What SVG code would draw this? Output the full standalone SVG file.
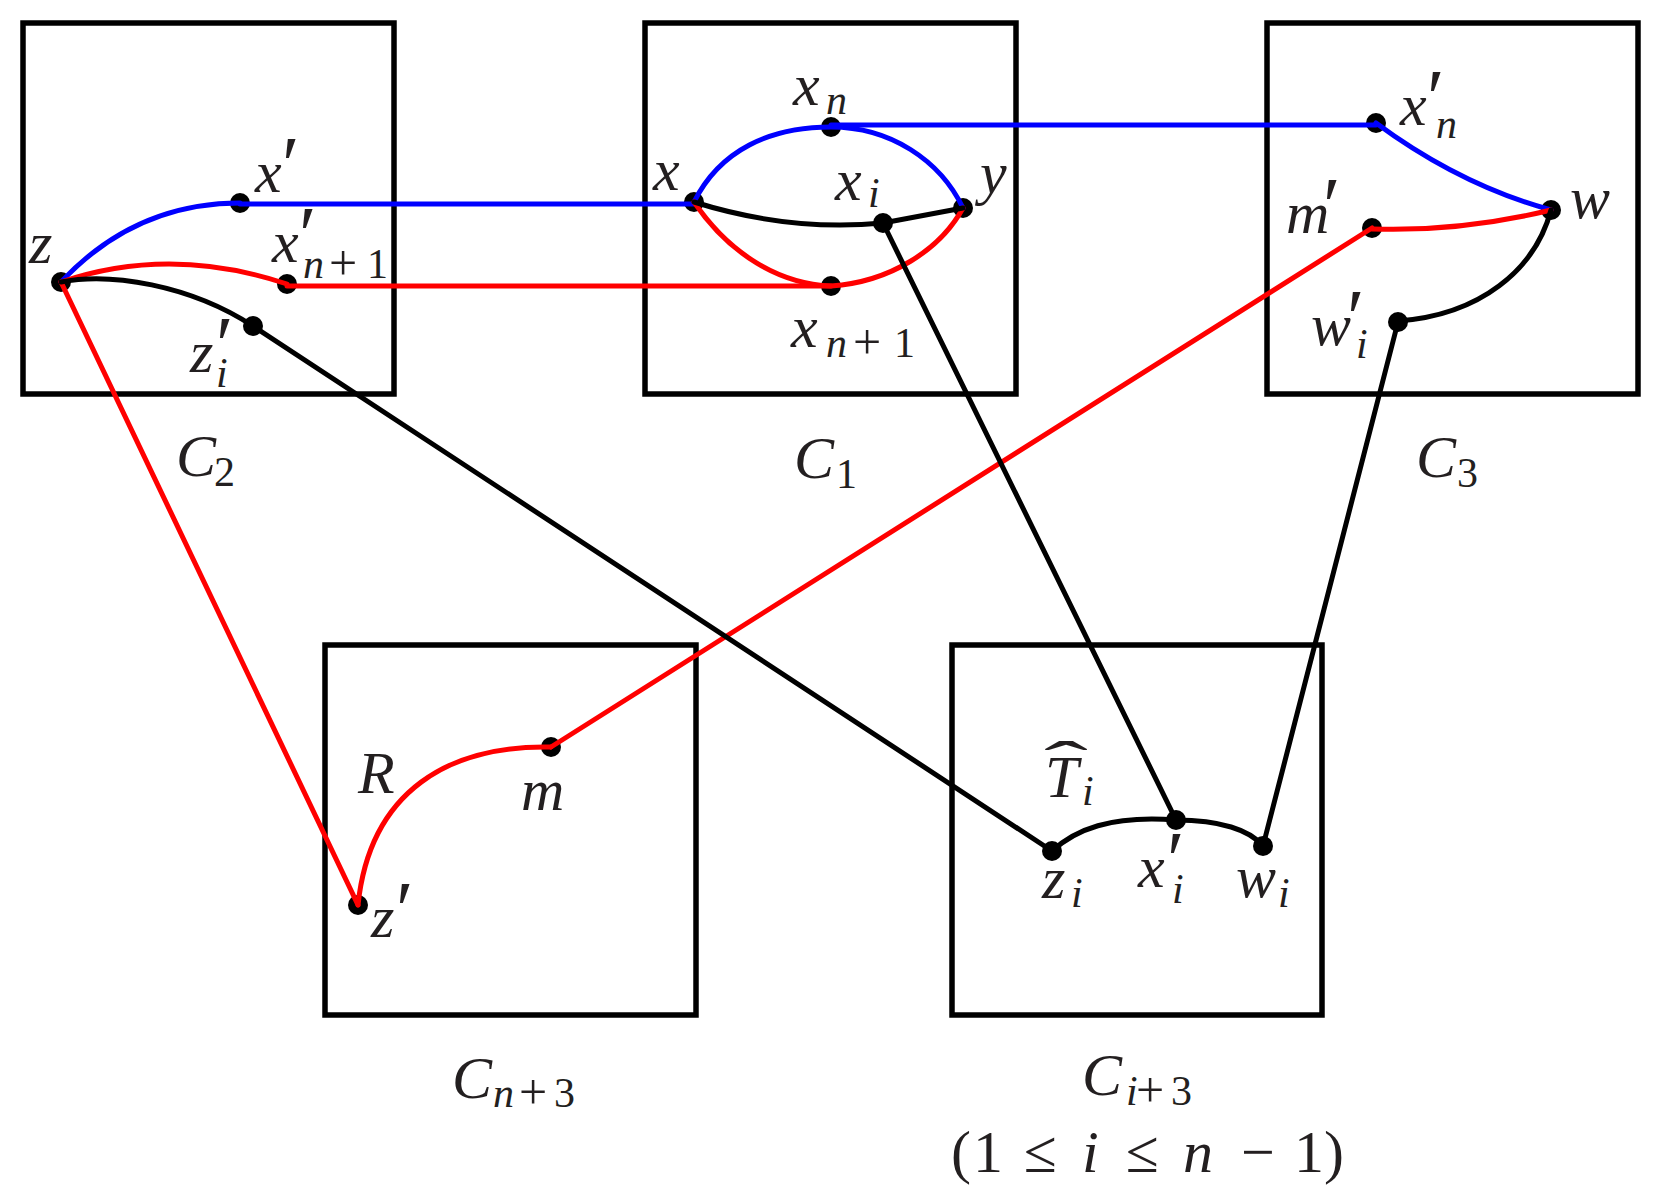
<svg xmlns="http://www.w3.org/2000/svg" width="1677" height="1200" viewBox="0 0 1677 1200">
<style>
.box{fill:none;stroke:#000;stroke-width:5.5}
.e{fill:none;stroke-width:5;stroke-linecap:round}
.b{stroke:#0000ff}
.rd{stroke:#ff0000}
.k{stroke:#000}
.dot{fill:#000}
text{font-family:"Liberation Serif","DejaVu Serif",serif;font-style:italic;font-size:60px;fill:#231f20}
.s{font-size:42px}
.u{font-style:normal}
.pl{font-style:normal;font-size:50px}
.p{font-style:normal;font-size:80px}
</style>
<rect width="1677" height="1200" fill="#fff"/>
<g id="boxes">
<g id="C2"><rect class="box" x="23" y="23" width="371" height="371"/><text x="176" y="476">C<tspan class="s u" x="214" y="486">2</tspan></text></g>
<g id="C1"><rect class="box" x="645" y="23" width="371" height="371"/><text x="794" y="478">C<tspan class="s u" x="836" y="488">1</tspan></text></g>
<g id="C3"><rect class="box" x="1267" y="23" width="371" height="371"/><text x="1416" y="477">C<tspan class="s u" x="1457" y="487">3</tspan></text></g>
<g id="Cn3"><rect class="box" x="325" y="645" width="371" height="370"/><text x="452" y="1098">C<tspan class="s" x="493" y="1107">n</tspan><tspan class="pl" x="519" y="1109">+</tspan><tspan class="s u" x="554" y="1107">3</tspan></text><text x="358" y="793">R</text></g>
<g id="Ci3"><rect class="box" x="952" y="645" width="370" height="370"/><text x="1082" y="1095">C<tspan class="s" x="1126" y="1105">i</tspan><tspan class="pl" x="1136" y="1107">+</tspan><tspan class="s u" x="1171" y="1105">3</tspan></text>
<text class="u" x="951" y="1172">(<tspan x="973">1</tspan><tspan x="1024">≤</tspan><tspan x="1082" style="font-style:italic">i</tspan><tspan x="1126">≤</tspan><tspan x="1183" style="font-style:italic">n</tspan><tspan x="1241">−</tspan><tspan x="1294">1</tspan><tspan x="1324">)</tspan></text>
<text x="1045" y="797">T<tspan class="s" x="1082" y="805">i</tspan></text><text class="u" transform="translate(1066,782) scale(2.2,1)" text-anchor="middle">ˆ</text></g>
</g>
<g id="dots">
<g id="n-z"><circle class="dot" cx="61" cy="282" r="10"/><text x="29" y="263">z</text></g>
<g id="n-xp"><circle class="dot" cx="240" cy="203" r="10"/><text x="255" y="192">x<tspan class="p" x="282" y="192">′</tspan></text></g>
<g id="n-xpn1"><circle class="dot" cx="287" cy="284" r="10"/><text x="272" y="262">x<tspan class="p" x="299" y="262">′</tspan><tspan class="s" x="303" y="278">n</tspan><tspan class="pl" x="329" y="280">+</tspan><tspan class="s u" x="367" y="278">1</tspan></text></g>
<g id="n-zpi"><circle class="dot" cx="253" cy="326" r="10"/><text x="190" y="372">z<tspan class="p" x="216" y="372">′</tspan><tspan class="s" x="216" y="387">i</tspan></text></g>
<g id="n-x"><circle class="dot" cx="694" cy="202" r="10"/><text x="653" y="190">x</text></g>
<g id="n-xn"><circle class="dot" cx="831" cy="127" r="10"/><text x="793" y="105">x<tspan class="s" x="826" y="114">n</tspan></text></g>
<g id="n-y"><circle class="dot" cx="963" cy="208" r="10"/><text x="980" y="193">y</text></g>
<g id="n-xi"><circle class="dot" cx="883" cy="223" r="10"/><text x="835" y="200">x<tspan class="s" x="868" y="207">i</tspan></text></g>
<g id="n-xn1"><circle class="dot" cx="831" cy="286" r="10"/><text x="791" y="347">x<tspan class="s" x="826" y="357">n</tspan><tspan class="pl" x="853" y="359">+</tspan><tspan class="s u" x="894" y="357">1</tspan></text></g>
<g id="n-xpn"><circle class="dot" cx="1376" cy="123" r="10"/><text x="1400" y="125">x<tspan class="p" x="1427" y="125">′</tspan><tspan class="s" x="1436" y="138">n</tspan></text></g>
<g id="n-w"><circle class="dot" cx="1551" cy="210" r="10"/><text x="1570" y="218">w</text></g>
<g id="n-mp"><circle class="dot" cx="1372" cy="228" r="10"/><text x="1286" y="233">m<tspan class="p" x="1323" y="233">′</tspan></text></g>
<g id="n-wpi"><circle class="dot" cx="1398" cy="322" r="10"/><text x="1311" y="345">w<tspan class="p" x="1347" y="345">′</tspan><tspan class="s" x="1356" y="358">i</tspan></text></g>
<g id="n-m"><circle class="dot" cx="551" cy="747" r="10"/><text x="521" y="810">m</text></g>
<g id="n-zp"><circle class="dot" cx="358" cy="905" r="10"/><text x="371" y="937">z<tspan class="p" x="396" y="937">′</tspan></text></g>
<g id="n-zi"><circle class="dot" cx="1052" cy="851" r="10"/><text x="1042" y="898">z<tspan class="s" x="1071" y="907">i</tspan></text></g>
<g id="n-xpi"><circle class="dot" cx="1176" cy="820" r="10"/><text x="1138" y="887">x<tspan class="p" x="1167" y="887">′</tspan><tspan class="s" x="1172" y="903">i</tspan></text></g>
<g id="n-wi"><circle class="dot" cx="1263" cy="846" r="10"/><text x="1236" y="897">w<tspan class="s" x="1278" y="907">i</tspan></text></g>
</g>
<g id="connectors">
<path class="e b" d="M61,282 Q135,203 240,203"/>
<path class="e b" d="M240,204 L694,204"/>
<path class="e b" d="M694,202 C720,150 770,127 831,127 C890,127 940,160 963,208"/>
<path class="e b" d="M831,125 L1376,125"/>
<path class="e b" d="M1376,123 Q1460,185 1551,210"/>
<path class="e rd" d="M61,282 Q170,245 287,284"/>
<path class="e rd" d="M287,286 L831,286"/>
<path class="e rd" d="M694,202 C730,255 780,284 831,286 C890,282 940,250 963,208"/>
<path class="e rd" d="M1372,229 Q1460,232 1551,210"/>
<path class="e rd" d="M61,282 L358,905"/>
<path class="e rd" d="M358,905 C370,790 450,745 551,747"/>
<path class="e rd" d="M551,747 L1372,228"/>
<path class="e k" d="M61,282 C110,272 190,285 253,326"/>
<path class="e k" d="M253,326 L1052,851"/>
<path class="e k" d="M694,202 Q790,232 883,223 L963,208"/>
<path class="e k" d="M883,223 L1176,820"/>
<path class="e k" d="M1052,851 C1075,830 1110,815 1176,820 C1220,820 1250,830 1263,846"/>
<path class="e k" d="M1263,846 L1398,322"/>
<path class="e k" d="M1398,321 C1480,315 1535,270 1551,210"/>
</g>
</svg>
